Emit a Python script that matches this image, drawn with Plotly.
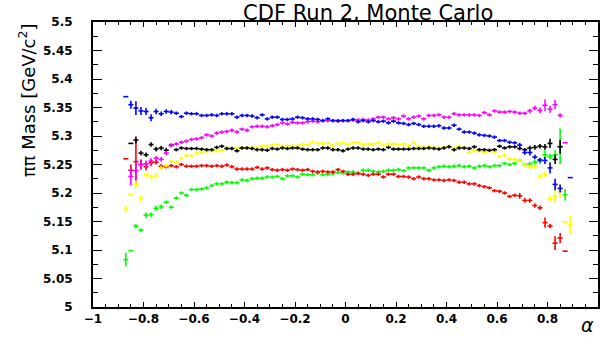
import plotly.graph_objects as go

# bin centres (alpha)
alpha = [-0.87, -0.85, -0.83, -0.81, -0.79, -0.77, -0.75, -0.73, -0.71, -0.69,
         -0.67, -0.65, -0.63, -0.61, -0.59, -0.57, -0.55, -0.53, -0.51, -0.49,
         -0.47, -0.45, -0.43, -0.41, -0.39, -0.37, -0.35, -0.33, -0.31, -0.29,
         -0.27, -0.25, -0.23, -0.21, -0.19, -0.17, -0.15, -0.13, -0.11, -0.09,
         -0.07, -0.05, -0.03, -0.01, 0.01, 0.03, 0.05, 0.07, 0.09, 0.11,
         0.13, 0.15, 0.17, 0.19, 0.21, 0.23, 0.25, 0.27, 0.29, 0.31,
         0.33, 0.35, 0.37, 0.39, 0.41, 0.43, 0.45, 0.47, 0.49, 0.51,
         0.53, 0.55, 0.57, 0.59, 0.61, 0.63, 0.65, 0.67, 0.69, 0.71,
         0.73, 0.75, 0.77, 0.79, 0.81, 0.83, 0.85, 0.87, 0.89]

blue = [5.369, 5.355, 5.349, 5.344, 5.343, 5.332, 5.343, 5.339, 5.343, 5.342,
        5.340, 5.334, 5.340, 5.339, 5.339, 5.336, 5.336, 5.337, 5.336, 5.339,
        5.339, 5.339, 5.333, 5.336, 5.336, 5.335, 5.332, 5.337, 5.330, 5.333,
        5.333, 5.329, 5.329, 5.330, 5.333, 5.332, 5.330, 5.330, 5.329, 5.327,
        5.330, 5.327, 5.327, 5.327, 5.327, 5.329, 5.325, 5.327, 5.325, 5.327,
        5.325, 5.326, 5.323, 5.326, 5.323, 5.322, 5.320, 5.322, 5.320, 5.317,
        5.317, 5.317, 5.318, 5.314, 5.314, 5.319, 5.312, 5.307, 5.307, 5.305,
        5.302, 5.301, 5.300, 5.298, 5.292, 5.292, 5.289, 5.288, 5.284, 5.271,
        5.271, 5.263, 5.258, 5.257, 5.244, 5.215, 5.208, None, 5.227]
blue_err = [0.0, 0.007, 0.012, 0.007, 0.006, 0.006, 0.005, 0.004, 0.004, 0.004,
            0.003, 0.003, 0.003, 0.003, 0.003, 0.003, 0.003, 0.003, 0.003, 0.003,
            0.003, 0.003, 0.003, 0.003, 0.003, 0.003, 0.003, 0.003, 0.003, 0.003,
            0.003, 0.003, 0.003, 0.003, 0.003, 0.003, 0.003, 0.003, 0.003, 0.003,
            0.003, 0.003, 0.003, 0.003, 0.003, 0.003, 0.003, 0.003, 0.003, 0.003,
            0.003, 0.003, 0.003, 0.003, 0.003, 0.003, 0.003, 0.003, 0.003, 0.003,
            0.003, 0.003, 0.003, 0.003, 0.003, 0.003, 0.003, 0.003, 0.003, 0.003,
            0.003, 0.003, 0.003, 0.003, 0.003, 0.003, 0.003, 0.003, 0.004, 0.004,
            0.005, 0.004, 0.004, 0.006, 0.010, 0.010, 0.007, 0.0, 0.0]

magenta = [None, 5.229, 5.239, 5.250, 5.251, 5.256, 5.261, 5.259, 5.270, 5.283,
           5.286, 5.289, 5.291, 5.294, 5.295, 5.297, 5.302, 5.300, 5.305, 5.307,
           5.308, 5.310, 5.307, 5.312, 5.310, 5.316, 5.317, 5.317, 5.316, 5.318,
           5.320, 5.323, 5.321, 5.324, 5.323, 5.323, 5.325, 5.326, 5.325, 5.327,
           5.327, 5.327, 5.326, 5.327, 5.327, 5.328, 5.328, 5.329, 5.328, 5.330,
           5.333, 5.333, 5.330, 5.332, 5.330, 5.335, 5.330, 5.333, 5.335, 5.330,
           5.336, 5.336, 5.337, 5.333, 5.333, 5.339, 5.337, 5.337, 5.337, 5.337,
           5.336, 5.341, 5.337, 5.344, 5.342, 5.342, 5.343, 5.342, 5.340, 5.340,
           5.344, 5.349, 5.345, 5.354, 5.347, 5.355, 5.336, 5.288, None]
magenta_err = [0.0, 0.016, 0.015, 0.009, 0.006, 0.005, 0.004, 0.004, 0.004, 0.003,
               0.003, 0.003, 0.003, 0.003, 0.003, 0.003, 0.003, 0.003, 0.003, 0.003,
               0.003, 0.003, 0.003, 0.003, 0.003, 0.003, 0.003, 0.003, 0.003, 0.003,
               0.003, 0.003, 0.003, 0.003, 0.003, 0.003, 0.003, 0.003, 0.003, 0.003,
               0.003, 0.003, 0.003, 0.003, 0.003, 0.003, 0.003, 0.003, 0.003, 0.003,
               0.003, 0.003, 0.003, 0.003, 0.003, 0.003, 0.003, 0.003, 0.003, 0.003,
               0.003, 0.003, 0.003, 0.003, 0.003, 0.003, 0.003, 0.003, 0.003, 0.003,
               0.003, 0.003, 0.003, 0.003, 0.003, 0.003, 0.003, 0.003, 0.003, 0.003,
               0.004, 0.004, 0.005, 0.010, 0.006, 0.008, 0.004, 0.0, 0.0]

black = [None, 5.287, 5.293, 5.270, 5.267, 5.285, 5.277, 5.279, 5.275, 5.284,
         5.276, 5.279, 5.278, 5.278, 5.278, 5.277, 5.276, 5.276, 5.280, 5.282,
         5.278, 5.278, 5.274, 5.279, 5.279, 5.278, 5.276, 5.276, 5.275, 5.278,
         5.277, 5.279, 5.278, 5.279, 5.279, 5.277, 5.276, 5.276, 5.276, 5.279,
         5.279, 5.276, 5.276, 5.274, 5.277, 5.279, 5.279, 5.277, 5.277, 5.276,
         5.277, 5.276, 5.280, 5.277, 5.277, 5.277, 5.277, 5.278, 5.278, 5.278,
         5.279, 5.278, 5.277, 5.279, 5.281, 5.276, 5.279, 5.279, 5.278, 5.281,
         5.276, 5.276, 5.275, 5.276, 5.282, 5.279, 5.281, 5.281, 5.278, 5.276,
         5.279, 5.280, 5.282, 5.281, 5.287, 5.259, 5.281, None, None]
black_err = [0.0, 0.0, 0.006, 0.004, 0.004, 0.004, 0.004, 0.004, 0.004, 0.003,
             0.003, 0.003, 0.003, 0.003, 0.003, 0.003, 0.003, 0.003, 0.003, 0.003,
             0.003, 0.003, 0.003, 0.003, 0.003, 0.003, 0.003, 0.003, 0.003, 0.003,
             0.003, 0.003, 0.003, 0.003, 0.003, 0.003, 0.003, 0.003, 0.003, 0.003,
             0.003, 0.003, 0.003, 0.003, 0.003, 0.003, 0.003, 0.003, 0.003, 0.003,
             0.003, 0.003, 0.003, 0.003, 0.003, 0.003, 0.003, 0.003, 0.003, 0.003,
             0.003, 0.003, 0.003, 0.003, 0.003, 0.003, 0.003, 0.003, 0.003, 0.003,
             0.003, 0.003, 0.003, 0.003, 0.003, 0.003, 0.003, 0.003, 0.003, 0.003,
             0.004, 0.004, 0.004, 0.005, 0.008, 0.008, 0.012, 0.0, 0.0]

yellow = [5.172, 5.197, 5.215, 5.191, 5.232, 5.228, 5.230, 5.244, 5.248, 5.256,
          5.254, 5.261, 5.266, 5.265, 5.270, 5.271, 5.273, 5.274, 5.274, 5.274,
          5.279, 5.278, 5.279, 5.279, 5.279, 5.280, 5.280, 5.282, 5.282, 5.284,
          5.285, 5.282, 5.283, 5.283, 5.283, 5.285, 5.285, 5.289, 5.287, 5.287,
          5.287, 5.283, 5.287, 5.288, 5.285, 5.288, 5.288, 5.285, 5.286, 5.286,
          5.288, 5.284, 5.286, 5.286, 5.285, 5.286, 5.283, 5.288, 5.282, 5.280,
          5.282, 5.280, 5.279, 5.280, 5.282, 5.279, 5.282, 5.280, 5.271, 5.275,
          5.273, 5.272, 5.273, 5.272, 5.264, 5.266, 5.260, 5.259, 5.256, 5.249,
          5.246, 5.246, 5.229, 5.233, 5.190, 5.195, 5.203, 5.149, 5.144]
yellow_err = [0.006, 0.0, 0.007, 0.005, 0.004, 0.004, 0.004, 0.004, 0.003, 0.003,
              0.003, 0.003, 0.003, 0.003, 0.003, 0.003, 0.003, 0.003, 0.003, 0.003,
              0.003, 0.003, 0.003, 0.003, 0.003, 0.003, 0.003, 0.003, 0.003, 0.003,
              0.003, 0.003, 0.003, 0.003, 0.003, 0.003, 0.003, 0.003, 0.003, 0.003,
              0.003, 0.003, 0.003, 0.003, 0.003, 0.003, 0.003, 0.003, 0.003, 0.003,
              0.003, 0.003, 0.003, 0.003, 0.003, 0.003, 0.003, 0.003, 0.003, 0.003,
              0.003, 0.003, 0.003, 0.003, 0.003, 0.003, 0.003, 0.003, 0.003, 0.003,
              0.003, 0.003, 0.003, 0.003, 0.003, 0.003, 0.003, 0.003, 0.003, 0.003,
              0.004, 0.004, 0.004, 0.005, 0.005, 0.012, 0.012, 0.0, 0.016]

red = [5.260, 5.240, 5.255, 5.250, 5.246, 5.253, 5.254, 5.247, 5.246, 5.248,
       5.246, 5.250, 5.247, 5.247, 5.247, 5.248, 5.248, 5.247, 5.248, 5.247,
       5.249, 5.246, 5.242, 5.242, 5.242, 5.242, 5.245, 5.242, 5.244, 5.241,
       5.240, 5.241, 5.240, 5.242, 5.241, 5.240, 5.241, 5.238, 5.237, 5.238,
       5.237, 5.237, 5.241, 5.238, 5.233, 5.233, 5.234, 5.233, 5.231, 5.233,
       5.233, 5.228, 5.233, 5.233, 5.229, 5.229, 5.228, 5.225, 5.228, 5.225,
       5.225, 5.223, 5.223, 5.222, 5.223, 5.222, 5.219, 5.219, 5.216, 5.216,
       5.213, 5.211, 5.209, 5.204, 5.203, 5.200, 5.194, 5.196, 5.195, 5.187,
       5.187, 5.178, 5.174, 5.148, 5.142, 5.112, 5.121, 5.098, None]
red_err = [0.0, 0.010, 0.040, 0.008, 0.006, 0.006, 0.004, 0.004, 0.003, 0.003,
           0.003, 0.003, 0.003, 0.003, 0.003, 0.003, 0.003, 0.003, 0.003, 0.003,
           0.003, 0.003, 0.003, 0.003, 0.003, 0.003, 0.003, 0.003, 0.003, 0.003,
           0.003, 0.003, 0.003, 0.003, 0.003, 0.003, 0.003, 0.003, 0.003, 0.003,
           0.003, 0.003, 0.003, 0.003, 0.003, 0.003, 0.003, 0.003, 0.003, 0.003,
           0.003, 0.003, 0.003, 0.003, 0.003, 0.003, 0.003, 0.003, 0.003, 0.003,
           0.003, 0.003, 0.003, 0.003, 0.003, 0.003, 0.003, 0.003, 0.003, 0.003,
           0.003, 0.003, 0.003, 0.003, 0.003, 0.003, 0.003, 0.003, 0.005, 0.004,
           0.004, 0.004, 0.004, 0.009, 0.004, 0.012, 0.009, 0.0, 0.0]

green = [5.083, 5.099, 5.142, 5.135, 5.161, 5.162, 5.173, 5.176, 5.184, 5.175,
         5.191, 5.200, 5.196, 5.206, 5.206, 5.207, 5.209, 5.213, 5.216, 5.216,
         5.219, 5.218, 5.218, 5.223, 5.222, 5.225, 5.226, 5.226, 5.228, 5.228,
         5.229, 5.225, 5.230, 5.230, 5.228, 5.233, 5.232, 5.232, 5.235, 5.232,
         5.233, 5.234, 5.236, 5.235, 5.237, 5.237, 5.235, 5.240, 5.240, 5.238,
         5.237, 5.238, 5.240, 5.240, 5.241, 5.239, 5.244, 5.244, 5.244, 5.244,
         5.240, 5.244, 5.246, 5.247, 5.246, 5.247, 5.248, 5.246, 5.247, 5.244,
         5.247, 5.248, 5.246, 5.248, 5.248, 5.252, 5.250, 5.252, 5.257, 5.250,
         5.251, 5.254, 5.256, 5.267, 5.264, 5.267, 5.282, 5.197, None]
green_err = [0.012, 0.0, 0.004, 0.003, 0.005, 0.004, 0.004, 0.004, 0.003, 0.003,
             0.003, 0.003, 0.003, 0.003, 0.003, 0.003, 0.003, 0.003, 0.003, 0.003,
             0.003, 0.003, 0.003, 0.003, 0.003, 0.003, 0.003, 0.003, 0.003, 0.003,
             0.003, 0.003, 0.003, 0.003, 0.003, 0.003, 0.003, 0.003, 0.003, 0.003,
             0.003, 0.003, 0.003, 0.003, 0.003, 0.003, 0.003, 0.003, 0.003, 0.003,
             0.003, 0.003, 0.003, 0.003, 0.003, 0.003, 0.003, 0.003, 0.003, 0.003,
             0.003, 0.003, 0.003, 0.003, 0.003, 0.003, 0.003, 0.003, 0.003, 0.003,
             0.003, 0.003, 0.003, 0.003, 0.003, 0.003, 0.003, 0.003, 0.003, 0.003,
             0.004, 0.004, 0.005, 0.008, 0.005, 0.008, 0.031, 0.010, 0.0]

bin_half_width = 0.01

x_tick_vals = [-1, -0.8, -0.6, -0.4, -0.2, 0, 0.2, 0.4, 0.6, 0.8, 1]
x_tick_text = ["\u22121", "\u22120.8", "\u22120.6", "\u22120.4", "\u22120.2", "0",
               "0.2", "0.4", "0.6", "0.8", "1"]
y_tick_vals = [5, 5.05, 5.1, 5.15, 5.2, 5.25, 5.3, 5.35, 5.4, 5.45, 5.5]
y_tick_text = ["5", "5.05", "5.1", "5.15", "5.2", "5.25", "5.3", "5.35", "5.4", "5.45", "5.5"]

series = [
    (green, green_err, "#00ff00"),
    (red, red_err, "#ff0000"),
    (yellow, yellow_err, "#ffff00"),
    (black, black_err, "#000000"),
    (magenta, magenta_err, "#ff00ff"),
    (blue, blue_err, "#0000ff"),
]

fig = go.Figure()
for vals, errs, col in series:
    xs, ys, es = [], [], []
    for a, v, e in zip(alpha, vals, errs):
        if v is not None:
            xs.append(a)
            ys.append(v)
            es.append(e)
    fig.add_trace(go.Scatter(
        x=xs, y=ys, mode="markers",
        marker=dict(size=1, color="rgba(0,0,0,0)", line=dict(width=0)),
        error_x=dict(type="constant", value=bin_half_width, width=0, thickness=1.6, color=col),
        error_y=dict(type="data", array=es, width=0, thickness=1.6, color=col),
        showlegend=False, hoverinfo="skip",
    ))

tickfont = dict(family="DejaVu Sans", size=12, color="black", weight="bold")

fig.update_layout(
    width=600, height=337,
    margin=dict(l=93, r=0, t=22, b=30),
    paper_bgcolor="white", plot_bgcolor="white",
    title=dict(text="CDF Run 2, Monte Carlo",
               font=dict(family="DejaVu Sans", size=21, color="black"),
               x=327 / 600, xanchor="center", xref="paper",
               y=1 - 12.5 / 337, yanchor="middle", yref="container"),
    xaxis=dict(range=[-1.0, 1.0], tickmode="array", tickvals=x_tick_vals, ticktext=x_tick_text,
               ticks="inside", ticklen=5, tickwidth=1, tickcolor="black",
               showline=True, linewidth=2, linecolor="black", mirror="allticks",
               showgrid=False, zeroline=False, tickfont=tickfont,
               minor=dict(tickmode="linear", tick0=-1, dtick=0.05, ticks="inside",
                          ticklen=3, tickwidth=1, tickcolor="black", showgrid=False)),
    yaxis=dict(range=[5.0, 5.5], tickmode="array", tickvals=y_tick_vals, ticktext=y_tick_text,
               ticks="inside", ticklen=9, tickwidth=1, tickcolor="black",
               showline=True, linewidth=2, linecolor="black", mirror="allticks",
               showgrid=False, zeroline=False, tickfont=tickfont, ticklabelstandoff=16,
               minor=dict(tickmode="linear", tick0=5, dtick=0.025, ticks="inside",
                          ticklen=5, tickwidth=1, tickcolor="black", showgrid=False)),
    annotations=[
        dict(text="\u03c0\u03c0 Mass [GeV/c<sup>2</sup>]", textangle=-90,
             xref="paper", yref="paper", x=(27 - 93) / 507, y=(307 - 21) / 285,
             xanchor="center", yanchor="top", showarrow=False,
             font=dict(family="DejaVu Sans", size=18, color="black")),
        dict(text="\u03b1", xref="paper", yref="paper",
             x=(589 - 93) / 507, y=(307 - 325) / 285,
             xanchor="center", yanchor="middle", showarrow=False,
             font=dict(family="DejaVu Sans", size=19, color="black", style="italic")),
    ],
)

fig.write_html("out.html")
